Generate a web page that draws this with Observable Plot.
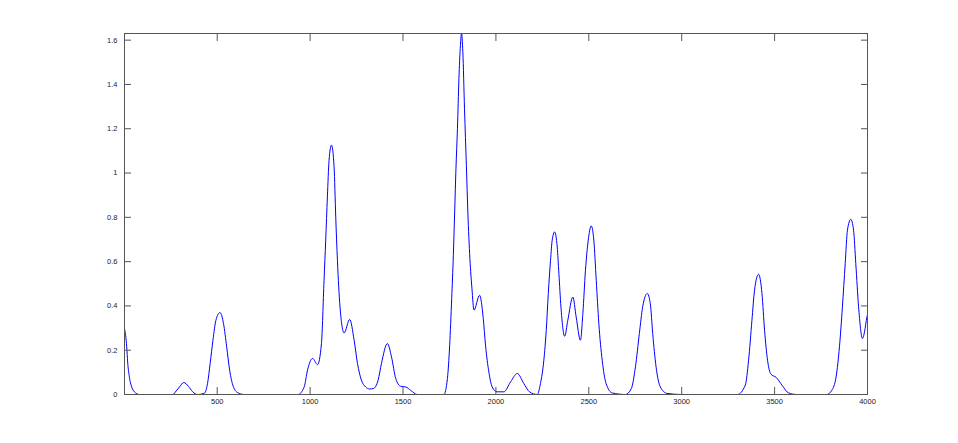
<!DOCTYPE html>
<html>
<head>
<meta charset="utf-8">
<script src="https://cdn.jsdelivr.net/npm/d3@7"></script>
<script src="https://cdn.jsdelivr.net/npm/@observablehq/plot@0.6"></script>
<style>
  html, body { margin: 0; padding: 0; background: #fff; }
  #chart { width: 958px; height: 443px; }
</style>
</head>
<body>
<div id="chart"></div>
<script>
const wavenumber = [1,13,18,27,40,54,81,150,220,261,279,297,320,345,368,395,430,448,462,477,493,515,534,551,567,586,609,645,750,850,935,968,986,1013,1040,1061,1075,1084,1093,1102,1115,1129,1138,1147,1161,1183,1213,1237,1255,1276,1299,1320,1341,1366,1384,1416,1438,1461,1488,1515,1541,1577,1650,1720,1739,1751,1762,1771,1778,1785,1793,1801,1808,1815,1822,1831,1841,1849,1860,1871,1882,1912,1932,1944,1962,1980,2007,2043,2079,2115,2150,2181,2222,2240,2258,2271,2282,2294,2303,2316,2330,2339,2350,2370,2387,2414,2432,2455,2468,2482,2497,2513,2527,2540,2554,2572,2593,2626,2697,2729,2751,2772,2790,2815,2831,2844,2862,2885,2921,3000,3100,3200,3300,3342,3360,3378,3392,3414,3432,3446,3462,3480,3509,3540,3575,3620,3700,3781,3808,3831,3849,3865,3880,3892,3910,3925,3937,3952,3973,3984,3997,4000];
const intensity = [0.298,0.215,0.147,0.08,0.034,0.012,0,0,0,0,0.016,0.034,0.054,0.037,0.012,0,0.005,0.05,0.14,0.245,0.335,0.37,0.32,0.215,0.11,0.037,0.009,0,0,0,0,0.034,0.11,0.163,0.135,0.23,0.516,0.697,0.892,1.058,1.126,1.028,0.80,0.606,0.395,0.278,0.339,0.245,0.14,0.065,0.034,0.025,0.027,0.065,0.14,0.23,0.17,0.072,0.037,0.034,0.019,0,0,0,0.072,0.22,0.433,0.629,0.824,1.02,1.20,1.427,1.562,1.63,1.547,1.29,1.035,0.824,0.614,0.479,0.381,0.448,0.343,0.223,0.102,0.034,0.012,0.012,0.057,0.095,0.05,0.012,0,0.05,0.155,0.29,0.456,0.606,0.697,0.734,0.666,0.546,0.396,0.263,0.335,0.44,0.35,0.245,0.366,0.561,0.697,0.761,0.697,0.516,0.32,0.155,0.05,0.007,0,0.027,0.125,0.275,0.396,0.456,0.41,0.275,0.125,0.034,0.005,0,0,0,0,0.042,0.155,0.335,0.471,0.543,0.456,0.29,0.155,0.092,0.077,0.042,0.007,0,0,0,0.019,0.08,0.215,0.396,0.591,0.742,0.791,0.742,0.591,0.396,0.253,0.283,0.35,0.36];
const xTicks = [500,1000,1500,2000,2500,3000,3500,4000];
const yTicks = [0,0.2,0.4,0.6,0.8,1,1.2,1.4,1.6];
const xDomain = [1, 4000];
const yDomain = [0, 1.63];

const data = wavenumber.map((x, i) => ({x, y: intensity[i]}));
const axisColor = "#555";
const fmtX = d => String(d);
const fmtY = d => String(+d.toFixed(1));
const blank = () => "";

const chart = Plot.plot({
  width: 958,
  height: 443,
  marginLeft: 124,
  marginRight: 91,
  marginTop: 33,
  marginBottom: 49,
  style: {fontFamily: "Arial, 'Liberation Sans', sans-serif", fontSize: "7.5px", color: "#222", background: "#fff"},
  x: {domain: xDomain},
  y: {domain: yDomain},
  marks: [
    Plot.line(data, {x: "x", y: "y", stroke: "#0000ff", strokeWidth: 1, curve: "monotone-x", clip: true}),
    Plot.frame({stroke: axisColor}),
    Plot.axisX(xTicks, {anchor: "bottom", tickSize: 7, dy: -7, tickFormat: blank, stroke: axisColor, label: null}),
    Plot.axisX(xTicks, {anchor: "bottom", tickSize: 0, tickPadding: 4, tickFormat: fmtX, label: null, fill: "#222"}),
    Plot.axisX(xTicks, {anchor: "top", tickSize: 7, dy: 7, tickFormat: blank, stroke: axisColor, label: null}),
    Plot.axisY(yTicks, {anchor: "left", tickSize: 7, dx: 7, tickFormat: blank, stroke: axisColor, label: null}),
    Plot.axisY(yTicks, {anchor: "left", tickSize: 0, tickPadding: 7, tickFormat: fmtY, label: null, fill: "#222"}),
    Plot.axisY(yTicks, {anchor: "right", tickSize: 7, dx: -7, tickFormat: blank, stroke: axisColor, label: null})
  ]
});
document.getElementById("chart").appendChild(chart);
</script>
</body>
</html>
